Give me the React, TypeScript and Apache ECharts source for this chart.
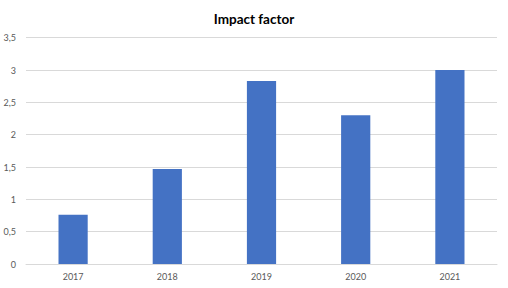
import React, { useEffect, useRef } from "react";
import * as echarts from "echarts";

const categories = ["2017", "2018", "2019", "2020", "2021"];
const impactFactor = [0.76, 1.47, 2.83, 2.3, 3.0];
const yTicks = [0, 0.5, 1, 1.5, 2, 2.5, 3, 3.5];

export default function App() {
  const ref = useRef<HTMLDivElement>(null);
  useEffect(() => {
    if (!ref.current) return;
    const chart = echarts.init(ref.current, undefined, { renderer: "svg" });
    chart.setOption({
      animation: false,
      backgroundColor: "#ffffff",
      title: {
        text: "Impact factor",
        left: "center",
        top: 7,
        textStyle: { fontFamily: "Lato", fontWeight: "bold", fontSize: 13.5, color: "#000000" },
      },
      grid: { left: 26, right: 11, top: 37.7, bottom: 24, containLabel: false },
      xAxis: {
        type: "category",
        data: categories,
        axisLine: { lineStyle: { color: "#d9d9d9", width: 1 } },
        axisTick: { show: false },
        axisLabel: { fontFamily: "Lato", fontSize: 9, color: "#595959", margin: 8 },
      },
      yAxis: {
        type: "value",
        min: yTicks[0],
        max: yTicks[yTicks.length - 1],
        interval: 0.5,
        axisLine: { show: false },
        axisTick: { show: false },
        splitLine: { lineStyle: { color: "#d9d9d9", width: 1 } },
        axisLabel: {
          fontFamily: "Lato",
          fontSize: 9,
          color: "#595959",
          margin: 10,
          formatter: (v: number) => String(v).replace(".", ","),
        },
      },
      series: [
        {
          type: "bar",
          data: impactFactor,
          barWidth: "31%",
          itemStyle: { color: "#4472c4" },
        },
      ],
    });
    return () => chart.dispose();
  }, []);
  return (
    <div
      ref={ref}
      style={{ position: "fixed", left: 0, top: 0, width: 508, height: 288 }}
    />
  );
}
